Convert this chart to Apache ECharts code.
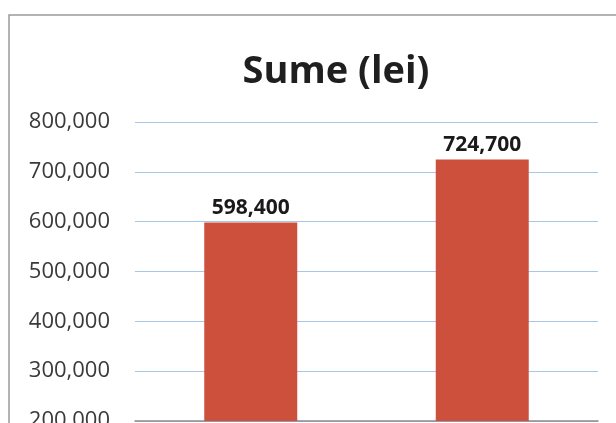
<!DOCTYPE html>
<html>
<head>
<meta charset="utf-8">
<script src="https://cdn.jsdelivr.net/npm/echarts@6/dist/echarts.min.js"></script>
<style>
  html, body { margin: 0; padding: 0; background: #fff; }
  #chart { width: 616px; height: 423px; }
</style>
</head>
<body>
<div id="chart"></div>
<script>
const categories = ['A', 'B']
const values = [598400, 724700]
const yTicks = [200000, 800000, 100000] // min, max, step

const chart = echarts.init(document.getElementById('chart'))

function fmt(v) {
  return v.toLocaleString('en-US')
}

chart.setOption({
  animation: false,
  title: {
    text: 'Sume (lei)',
    left: 331,
    top: 48,
    textAlign: 'center',
    textStyle: { fontFamily: 'Open Sans', fontWeight: 'bold', fontSize: 38, color: '#1f1f1f' },
  },
  graphic: [{
    type: 'rect',
    shape: { x: 9, y: 15, width: 700, height: 500 },
    style: { fill: 'none', stroke: '#9a9a9a', lineWidth: 1.5 },
    silent: true,
  }],
  grid: { left: 135, right: 18, top: 122, bottom: 2, outerBoundsMode: 'none' },
  xAxis: {
    type: 'category',
    data: categories,
    axisLine: { lineStyle: { color: '#8c8c8c', width: 1.5 } },
    axisTick: { show: false },
    axisLabel: { show: false },
  },
  yAxis: {
    type: 'value',
    min: yTicks[0],
    max: yTicks[1],
    interval: yTicks[2],
    axisLine: { show: false },
    axisTick: { show: false },
    axisLabel: {
      margin: 25,
      fontFamily: 'Open Sans',
      fontSize: 22,
      color: '#3a3a3a',
      formatter: fmt,
    },
    splitLine: { lineStyle: { color: '#a9c6e8', width: 1.2 } },
  },
  series: [{
    type: 'bar',
    data: values,
    barWidth: 93,
    itemStyle: { color: '#cd503d' },
    label: {
      show: true,
      position: 'top',
      distance: 4,
      fontFamily: 'Open Sans',
      fontWeight: 'bold',
      fontSize: 21,
      color: '#1a1a1a',
      formatter: p => fmt(p.value),
    },
  }],
})
</script>
</body>
</html>
